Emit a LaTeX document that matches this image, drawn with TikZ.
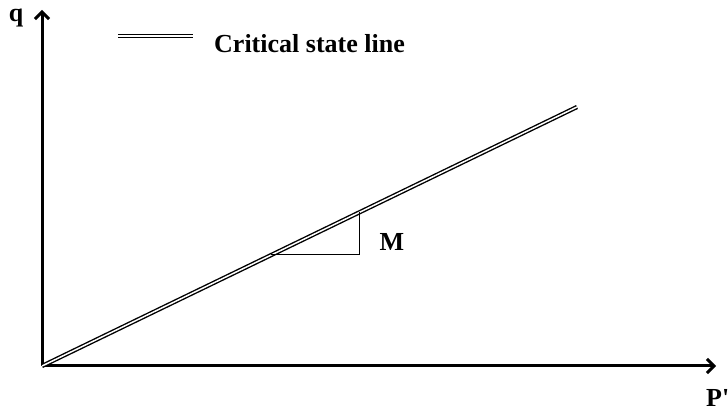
\documentclass[tikz,border=0pt]{standalone}
\usepackage{fontspec}
\setmainfont{Liberation Serif}
\newfontfamily\plainserif{Liberation Serif}
\usetikzlibrary{arrows.meta}
\begin{document}
\begin{tikzpicture}[x=1pt,y=-1pt,
  axis/.style={line width=3pt,-{Straight Barb[length=7pt,width=14pt,line width=3pt]}},
  csl/.style={double,line width=1.4pt,double distance=1.5pt},
  thin/.style={line width=1pt},
  lbl/.style={font=\fontsize{26}{29}\selectfont\bfseries,inner sep=0pt}]
\useasboundingbox (0,0) rectangle (728,411);
\clip (0,0) rectangle (728,411);
\coordinate (O) at (42,366);
\coordinate (Ytop) at (42,10);
\coordinate (Xend) at (716,366);
\coordinate (Cend) at (577,107);
\coordinate (T1) at (271,255);
\coordinate (T2) at (359,255);
\coordinate (T3) at (359,212);
\coordinate (L1) at (118,36);
\coordinate (L2) at (193,36);
\draw[axis] (O) -- (Ytop);
\draw[axis] (O) -- (Xend);
\draw[csl] (O) -- (Cend);
\draw[thin] (T1) -- (T2) -- (T3);
\draw[csl] (L1) -- (L2);
\node[lbl,anchor=west] (leg) at (214,44) {Critical state line};
\node[lbl] (q) at (16,18) {q};
\node[lbl] (M) at (392,242) {M};
\node[lbl,anchor=west,font=\fontsize{26}{29}\selectfont\plainserif\bfseries] (P) at (706,398) {P'};
\end{tikzpicture}
\end{document}
